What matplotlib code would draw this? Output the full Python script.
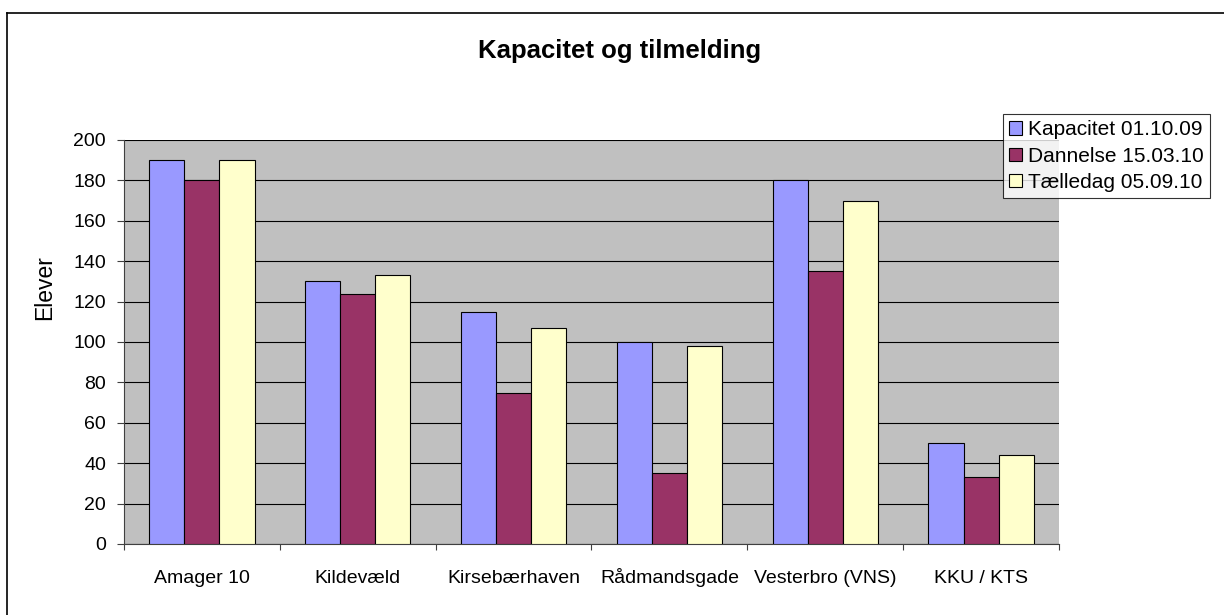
import matplotlib
matplotlib.use("Agg")
import matplotlib.pyplot as plt
from matplotlib.lines import Line2D
from matplotlib.transforms import blended_transform_factory
import numpy as np

plt.rcParams['font.family'] = ['Liberation Sans', 'DejaVu Sans']

### DATA
skoler = ["Amager 10", "Kildevæld", "Kirsebærhaven", "Rådmandsgade", "Vesterbro (VNS)", "KKU / KTS"]
kapacitet = [190, 130, 115, 100, 180, 50]
dannelse = [180, 124, 75, 35, 135, 33]
taelledag = [190, 133, 107, 98, 170, 44]
serier = ["Kapacitet 01.10.09", "Dannelse 15.03.10", "Tælledag 05.09.10"]
farver = ["#9999FF", "#993366", "#FFFFCC"]

W, H = 1224, 615
fig = plt.figure(figsize=(W / 100, H / 100), dpi=100)
ax = fig.add_axes([124 / W, 1 - 544 / H, (1059 - 124) / W, (544 - 140) / H])
ax.set_facecolor("#C0C0C0")

x = np.arange(len(skoler))
bw = 0.225
for i, (vals, navn, c) in enumerate(zip([kapacitet, dannelse, taelledag], serier, farver)):
    ax.bar(x + (i - 1) * bw, vals, bw, color=c, edgecolor="black", linewidth=0.8, label=navn, zorder=3)

ax.set_xlim(-0.5, len(skoler) - 0.5)
ax.set_ylim(0, 200)
ax.set_yticks(range(0, 201, 20))
ax.yaxis.grid(True, color="black", linewidth=0.8, zorder=1)
ax.set_axisbelow(True)

# tick marks between categories, labels placed on a common baseline
ax.set_xticks(np.arange(-0.5, len(skoler) + 0.5, 1))
ax.set_xticklabels([])
ax.tick_params(axis="x", which="major", length=4.5, direction="out", color="#404040")
ax.tick_params(axis="y", length=5, pad=8, direction="out", labelsize=14, color="#404040")
trans = blended_transform_factory(ax.transData, fig.transFigure)
for xi, navn in zip(x, skoler):
    ax.text(xi, 1 - 583 / H, navn, transform=trans, ha="center", va="baseline", fontsize=14)

for s in ["top", "right"]:
    ax.spines[s].set_visible(False)
ax.spines["left"].set_color("#404040")
ax.spines["bottom"].set_color("#404040")

fig.text(45 / W, 1 - 288 / H, "Elever", rotation=90, ha="center", va="center", fontsize=16.5)
fig.text(620 / W, 1 - 51 / H, "Kapacitet og tilmelding", ha="center", va="center",
         fontsize=18.5, fontweight="bold")

leg = ax.legend(loc="upper left", bbox_to_anchor=(1003 / W, 1 - 114 / H), bbox_transform=fig.transFigure,
                fontsize=15, frameon=True, fancybox=False, edgecolor="black", handlelength=0.6,
                handleheight=0.6, handletextpad=0.3, borderpad=0.3, labelspacing=0.35, borderaxespad=0)
leg.get_frame().set_linewidth(0.8)

# figure border (top and left visible)
fig.add_artist(Line2D([7 / W, 7 / W], [0, 1 - 13 / H], transform=fig.transFigure, color="black", linewidth=1.2))
fig.add_artist(Line2D([7 / W, 1], [1 - 13 / H, 1 - 13 / H], transform=fig.transFigure, color="black", linewidth=1.2))

plt.savefig("out.png", dpi=100)
plt.close()
